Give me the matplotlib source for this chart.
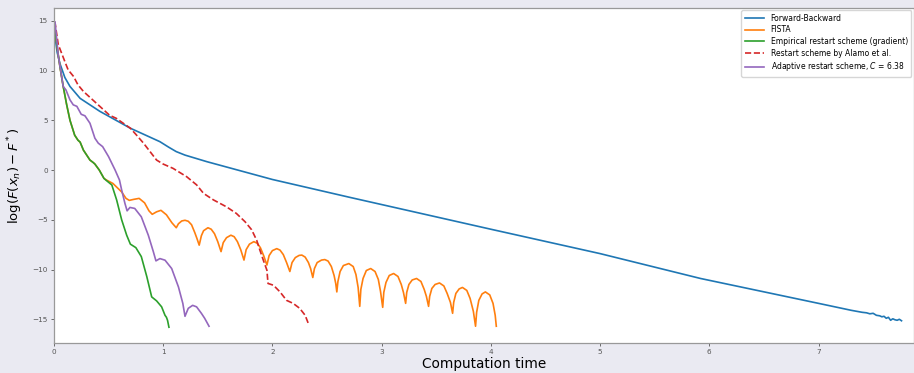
import matplotlib
matplotlib.use("Agg")
import matplotlib.pyplot as plt

# Forward-Backward
fb_t = [0, 0.01, 0.03, 0.055, 0.1, 0.147, 0.24, 0.42, 0.70, 0.97, 1.05, 1.12, 1.2, 1.4,
        2.0, 2.71, 4.0, 5.0, 5.92, 7.0, 7.3, 7.35, 7.4, 7.44, 7.47, 7.5, 7.53, 7.56,
        7.58, 7.6, 7.62, 7.64, 7.66, 7.68, 7.7, 7.72, 7.74, 7.76]
fb_v = [14.8, 13.4, 11.8, 10.7, 9.3, 8.4, 7.2, 5.9, 4.2, 2.85, 2.3, 1.85, 1.5, 0.84,
        -0.95, -2.75, -5.95, -8.4, -10.9, -13.4, -14.1, -14.2, -14.3, -14.35, -14.45,
        -14.4, -14.6, -14.65, -14.75, -14.7, -14.9, -14.8, -15.1, -14.95, -15.05,
        -15.1, -15.0, -15.15]

# Empirical restart scheme (gradient)
emp_t = [0, 0.01, 0.03, 0.055, 0.085, 0.116, 0.147, 0.19, 0.22, 0.24, 0.27, 0.3, 0.33,
         0.36, 0.375, 0.415, 0.458, 0.48, 0.53, 0.574, 0.62, 0.666, 0.70, 0.75, 0.80,
         0.85, 0.895, 0.94, 0.986, 1.017, 1.03, 1.04, 1.053]
emp_v = [14.9, 14.2, 12.3, 10.4, 8.4, 6.6, 5.0, 3.5, 3.0, 2.8, 2.0, 1.5, 1.0,
         0.75, 0.6, 0.0, -0.84, -1.05, -1.5, -3.0, -5.0, -6.55, -7.45, -7.8, -8.7,
         -10.7, -12.75, -13.15, -13.75, -14.6, -14.8, -15.1, -15.8]

# FISTA (same path as the restart scheme until the first restart)
fista_t = [0, 0.01, 0.03, 0.055, 0.085, 0.116, 0.147, 0.19, 0.22, 0.24, 0.27, 0.3, 0.33,
           0.36, 0.375, 0.415, 0.458, 0.48,
           0.54, 0.62, 0.66, 0.69, 0.73, 0.78, 0.83, 0.87, 0.90, 0.94, 0.98, 1.03,
           1.08, 1.12, 1.14, 1.17, 1.20, 1.23, 1.26, 1.29, 1.31, 1.33,
           1.35, 1.37, 1.41, 1.44, 1.47, 1.50, 1.53,
           1.55, 1.58, 1.62, 1.65, 1.68, 1.71, 1.74,
           1.76, 1.79, 1.83, 1.86, 1.89, 1.92, 1.95,
           1.97, 2.00, 2.04, 2.07, 2.10, 2.13, 2.16,
           2.18, 2.21, 2.245, 2.27, 2.30, 2.33, 2.35, 2.37,
           2.385, 2.41, 2.45, 2.48, 2.51, 2.54, 2.565, 2.58, 2.59,
           2.60, 2.62, 2.65, 2.70, 2.74, 2.765, 2.785, 2.80,
           2.81, 2.83, 2.86, 2.90, 2.94, 2.97, 2.99, 3.01,
           3.02, 3.04, 3.07, 3.11, 3.15, 3.18, 3.20, 3.22,
           3.23, 3.25, 3.28, 3.32, 3.36, 3.39, 3.41, 3.43,
           3.44, 3.46, 3.49, 3.53, 3.57, 3.60, 3.63, 3.65,
           3.66, 3.68, 3.71, 3.74, 3.78, 3.81, 3.84, 3.86,
           3.87, 3.89, 3.92, 3.95, 3.99, 4.02, 4.04, 4.05]
fista_v = [14.9, 14.2, 12.3, 10.4, 8.4, 6.6, 5.0, 3.5, 3.0, 2.8, 2.0, 1.5, 1.0,
           0.75, 0.6, 0.0, -0.84, -1.0,
           -1.35, -2.2, -2.85, -3.05, -2.95, -2.85, -3.3, -4.1, -4.45, -4.2, -4.05, -4.5,
           -5.3, -5.8, -5.4, -5.12, -5.05, -5.15, -5.5, -6.3, -6.9, -7.55,
           -6.6, -6.1, -5.8, -5.95, -6.4, -7.2, -8.2,
           -7.3, -6.8, -6.55, -6.7, -7.2, -8.0, -9.05,
           -8.0, -7.45, -7.2, -7.35, -7.8, -8.6, -9.55,
           -8.6, -8.1, -7.9, -8.05, -8.5, -9.3, -10.2,
           -9.3, -8.8, -8.58, -8.55, -8.75, -9.3, -9.9, -10.8,
           -9.9, -9.3, -9.05, -9.0, -9.15, -9.7, -10.6, -11.4, -12.25,
           -11.2, -10.2, -9.6, -9.4, -9.7, -10.5, -11.8, -13.7,
           -12.0, -10.9, -10.1, -9.9, -10.2, -11.0, -12.2, -13.8,
           -12.3, -11.3, -10.6, -10.4, -10.7, -11.5, -12.3, -13.4,
           -12.3, -11.5, -11.05, -10.9, -11.2, -12.0, -12.7, -13.7,
           -12.7, -11.9, -11.5, -11.35, -11.65, -12.4, -13.3, -14.4,
           -13.3, -12.4, -11.95, -11.8, -12.1, -12.9, -14.2, -15.7,
           -14.3, -13.1, -12.45, -12.25, -12.55, -13.4, -14.6, -15.7]

# Restart scheme by Alamo et al.
alamo_t = [0, 0.01, 0.04, 0.07, 0.10, 0.13, 0.18, 0.22, 0.27, 0.33, 0.39, 0.45, 0.51,
           0.57, 0.635, 0.70, 0.757, 0.82, 0.88, 0.94, 1.0, 1.09, 1.215, 1.307, 1.37,
           1.46, 1.58, 1.67, 1.75, 1.81, 1.856, 1.886, 1.917, 1.95, 1.96, 2.01, 2.07,
           2.13, 2.19, 2.25, 2.30, 2.33]
alamo_v = [14.9, 14.8, 12.6, 11.75, 10.9, 10.07, 9.4, 8.56, 7.9, 7.3, 6.7, 6.1, 5.5,
           5.2, 4.7, 4.2, 3.5, 2.7, 1.85, 1.0, 0.6, 0.17, -0.67, -1.5, -2.35,
           -3.0, -3.7, -4.36, -5.2, -6.0, -7.05, -8.06, -9.06, -10.07, -11.4, -11.58, -12.25,
           -13.1, -13.4, -13.9, -14.6, -15.45]

# Adaptive restart scheme
adapt_t = [0, 0.01, 0.04, 0.085, 0.11, 0.147, 0.177, 0.21, 0.25, 0.284, 0.33, 0.375,
           0.406, 0.446, 0.5, 0.56, 0.60, 0.62, 0.65, 0.67, 0.696, 0.74, 0.80, 0.864,
           0.91, 0.934, 0.97, 1.017, 1.078, 1.14, 1.18, 1.20, 1.23, 1.27, 1.306, 1.35,
           1.38, 1.42]
adapt_v = [14.9, 14.9, 11.5, 8.4, 8.05, 7.05, 6.55, 6.4, 5.6, 5.45, 4.7, 3.2,
           2.7, 2.35, 1.35, 0.0, -1.0, -2.0, -3.35, -4.1, -3.76, -3.86, -4.7, -6.55,
           -8.2, -9.13, -8.9, -9.06, -9.9, -11.75, -13.4, -14.7, -13.9, -13.6, -13.75, -14.4,
           -14.9, -15.7]

plt.rcParams["font.family"] = "DejaVu Sans"
fig = plt.figure(figsize=(9.14, 3.73), dpi=100, facecolor="#eaeaf2")
ax = fig.add_axes([0.059, 0.080, 0.9405, 0.899])
ax.set_facecolor("white")

lw = 1.2
ax.plot(fb_t, fb_v, color="#1f77b4", lw=lw, label="Forward-Backward")
ax.plot(fista_t, fista_v, color="#ff7f0e", lw=lw, label="FISTA")
ax.plot(emp_t, emp_v, color="#2ca02c", lw=lw, label="Empirical restart scheme (gradient)")
ax.plot(alamo_t, alamo_v, color="#d62728", lw=lw, ls="--", label="Restart scheme by Alamo et al.")
ax.plot(adapt_t, adapt_v, color="#9467bd", lw=lw, label="Adaptive restart scheme, $C$ = 6.38")

ax.set_xlim(0, 7.87)
ax.set_ylim(-17.4, 16.3)
ax.set_xticks(range(0, 8))
ax.set_yticks([-15, -10, -5, 0, 5, 10, 15])
ax.tick_params(labelsize=5.2, colors="#555555", length=2.5, width=0.6, pad=2)
for s in ax.spines.values():
    s.set_color("#999999")
    s.set_linewidth(0.9)

ax.set_xlabel("Computation time", fontsize=9.8, labelpad=1)
ax.set_ylabel(r"$\log(F(x_n) - F^*)$", fontsize=9.5, labelpad=5)

leg = ax.legend(loc="upper right", fontsize=5.5, frameon=True, borderaxespad=0.3,
                handlelength=2.6, labelspacing=0.35, borderpad=0.45)
leg.get_frame().set_edgecolor("#cccccc")

fig.savefig("out.png", dpi=100, facecolor=fig.get_facecolor())
